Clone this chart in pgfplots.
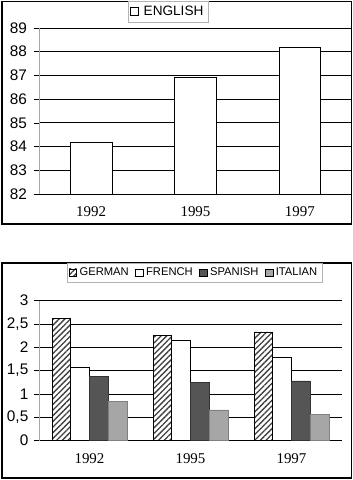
\documentclass[border=0pt]{standalone}
\usepackage{pgfplots}
\pgfplotsset{compat=1.18}
\usepackage{fontspec}
\setmainfont{Liberation Serif}
\newfontfamily\arial{Liberation Sans}
\usetikzlibrary{patterns.meta}
\definecolor{spanish}{HTML}{555555}
\definecolor{italian}{HTML}{A6A6A6}
\begin{document}
\begin{tikzpicture}
\path[use as bounding box] (0,0) rectangle (264.75pt,-360pt);
% frames
\draw[line width=1.1pt] (1.5pt,-1.0pt) rectangle (263.6pt,-168pt);
\draw[line width=1.1pt] (1.5pt,-197.3pt) rectangle (263.6pt,-358.6pt);
% top chart
\begin{axis}[
  at={(29.25pt,-145.5pt)}, anchor=south west,
  scale only axis, width=234.75pt, height=124.5pt,
  xmin=-0.5, xmax=2.5, ymin=82, ymax=89,
  ytick={82,83,...,89},
  xtick={0,1,2}, xticklabels={1992,1995,1997},
  axis x line*=bottom, axis y line*=left,
  axis line style={-},
  x axis line style={draw=black, line width=0.6pt},
  y axis line style={draw=gray!70, line width=0.6pt},
  ymajorgrids, grid style={black, line width=0.6pt},
  xtick style={draw=none},
  ytick style={draw=black, line width=0.5pt},
  tick align=outside, major tick length=4pt,
  /pgf/number format/assume math mode=true,
  yticklabel style={font=\arial\fontsize{11.5}{13}\selectfont, xshift=-1.5pt},
  xticklabel style={font=\fontsize{11.2}{13}\selectfont, yshift=-2pt},
  ybar, bar width=0.4,
  legend style={at={(axis description cs:0.412,1.099)}, anchor=center,
    draw=gray!60, line width=0.4pt, font=\arial\fontsize{10.2}{12}\selectfont,
    inner sep=1.5pt, /tikz/every even column/.append style={column sep=2pt}},
  legend image code/.code={\draw[#1, draw=black, line width=0.4pt] (0pt,-3pt) rectangle (6pt,3pt);},
]
\addplot[fill=white, draw=black, line width=0.5pt] coordinates {(0,84.18) (1,86.9) (2,88.18)};
\addlegendentry{\hspace{2pt}ENGLISH}
\end{axis}
% bottom chart
\begin{axis}[
  at={(29.25pt,-330.5pt)}, anchor=south west,
  scale only axis, width=227.25pt, height=105pt,
  xmin=-0.5, xmax=2.5, ymin=0, ymax=3,
  ytick={0,0.5,...,3},
  xtick={0,1,2}, xticklabels={1992,1995,1997},
  axis x line*=bottom, axis y line*=left,
  axis line style={-},
  x axis line style={draw=black, line width=0.6pt},
  y axis line style={draw=gray!70, line width=0.6pt},
  ymajorgrids, grid style={black, line width=0.6pt},
  xtick style={draw=none},
  ytick style={draw=black, line width=0.5pt},
  tick align=outside, major tick length=4pt,
  /pgf/number format/assume math mode=true,
  /pgf/number format/use comma,
  yticklabel style={font=\arial\fontsize{11.5}{13}\selectfont, xshift=-0.5pt},
  xticklabel style={font=\fontsize{11.2}{13}\selectfont, yshift=-2pt},
  ybar=0pt, bar width=0.185,
  legend columns=4,
  legend style={at={(axis description cs:0.513,1.201)}, anchor=center,
    draw=gray!60, line width=0.4pt, font=\arial\fontsize{8.4}{10}\selectfont,
    inner sep=1.5pt, /tikz/every even column/.append style={column sep=3pt}},
  legend image code/.code={\draw[#1, draw=black, line width=0.4pt] (0pt,-2.8pt) rectangle (5.6pt,2.8pt);},
]
\addplot[fill=white, draw=black, line width=0.5pt,
  postaction={pattern={Lines[angle=45,distance=3pt,line width=1pt]}, pattern color=black!75}]
  coordinates {(0,2.62) (1,2.26) (2,2.33)};
\addlegendentry{GERMAN}
\addplot[fill=white, draw=black, line width=0.5pt] coordinates {(0,1.57) (1,2.14) (2,1.78)};
\addlegendentry{FRENCH}
\addplot[fill=spanish, draw=black!80, line width=0.5pt] coordinates {(0,1.38) (1,1.24) (2,1.28)};
\addlegendentry{SPANISH}
\addplot[fill=italian, draw=black!50, line width=0.5pt] coordinates {(0,0.84) (1,0.66) (2,0.57)};
\addlegendentry{ITALIAN}
\end{axis}
\end{tikzpicture}
\end{document}
